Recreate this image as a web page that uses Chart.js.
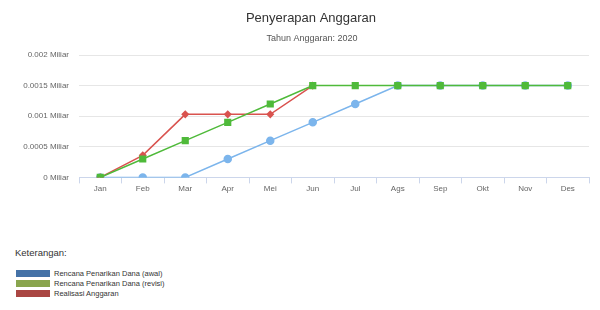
<!DOCTYPE html>
<html>
<head>
<meta charset="utf-8">
<script src="https://cdn.jsdelivr.net/npm/chart.js@4"></script>
<style>
  body { margin: 0; background: #fff; font-family: "Liberation Sans", Arial, sans-serif; }
  #wrap { position: relative; width: 600px; height: 205px; }
  #legend { position: absolute; left: 15px; top: 247px; color: #333; }
  #legend .head { font-size: 9.5px; line-height: 12px; margin-bottom: 9px; }
  #legend .row { display: flex; align-items: center; height: 10px; font-size: 7.5px; }
  #legend .box { width: 34px; height: 7px; margin-left: 1px; margin-right: 4px; }
</style>
</head>
<body>
<div id="wrap"><canvas id="myChart"></canvas></div>
<div id="legend">
  <div class="head">Keterangan:</div>
  <div class="row"><span class="box" style="background:#4572a7"></span>Rencana Penarikan Dana (awal)</div>
  <div class="row"><span class="box" style="background:#89a54e"></span>Rencana Penarikan Dana (revisi)</div>
  <div class="row"><span class="box" style="background:#aa4643"></span>Realisasi Anggaran</div>
</div>
<script>
const months = ['Jan','Feb','Mar','Apr','Mei','Jun','Jul','Ags','Sep','Okt','Nov','Des'];
const rencanaAwal = [0, 0, 0, 0.0003, 0.0006, 0.0009, 0.0012, 0.0015, 0.0015, 0.0015, 0.0015, 0.0015];
const rencanaRevisi = [0, 0.0003, 0.0006, 0.0009, 0.0012, 0.0015, 0.0015, 0.0015, 0.0015, 0.0015, 0.0015, 0.0015];
const realisasi = [0, 0.00036, 0.00103, 0.00103, 0.00103, 0.0015, null, null, null, null, null, null];
const chartTitle = 'Penyerapan Anggaran';
const chartSubtitle = 'Tahun Anggaran: 2020';

const ctx = document.getElementById('myChart');
const fontFam = '"Liberation Sans", Arial, sans-serif';

// title + subtitle sit a bit right of canvas centre in the original
const headerText = {
  id: 'headerText',
  afterDraw(chart) {
    const c = chart.ctx;
    c.save();
    c.textAlign = 'center';
    c.textBaseline = 'middle';
    c.fillStyle = '#333';
    c.font = '13px ' + fontFam;
    c.fillText(chartTitle, 311, 18);
    c.fillStyle = '#555';
    c.font = '9px ' + fontFam;
    c.fillText(chartSubtitle, 312, 38.5);
    c.restore();
  }
};

new Chart(ctx, {
  type: 'line',
  data: {
    labels: months,
    datasets: [{
      label: 'Rencana Penarikan Dana (awal)',
      data: rencanaAwal,
      borderColor: '#7cb5ec',
      backgroundColor: '#7cb5ec',
      borderWidth: 1.5,
      pointStyle: 'circle',
      pointRadius: 3.5,
      order: 3
    }, {
      label: 'Realisasi Anggaran',
      data: realisasi,
      borderColor: '#d9534f',
      backgroundColor: '#d9534f',
      borderWidth: 1.5,
      pointStyle: 'rectRot',
      pointRadius: 3,
      order: 2
    }, {
      label: 'Rencana Penarikan Dana (revisi)',
      data: rencanaRevisi,
      borderColor: '#4fba3a',
      backgroundColor: '#4fba3a',
      borderWidth: 1.5,
      pointStyle: 'rect',
      pointRadius: 4,
      order: 1
    }]
  },
  options: {
    responsive: true,
    maintainAspectRatio: false,
    animation: false,
    layout: { padding: { left: 0, right: 11, top: 55, bottom: 10 } },
    plugins: {
      legend: { display: false },
      tooltip: { enabled: false },
      title: { display: false },
      subtitle: { display: false }
    },
    scales: {
      x: {
        offset: true,
        grid: { drawOnChartArea: false, drawTicks: true, tickLength: 6, color: '#ccd6eb', offset: true },
        border: { color: '#ccd6eb' },
        ticks: { color: '#666', font: { family: fontFam, size: 8 }, padding: 1 }
      },
      y: {
        min: 0,
        max: 0.002,
        afterFit: function(scale) { scale.width = 79; },
        grid: { color: '#e6e6e6', drawTicks: false },
        border: { display: false },
        ticks: {
          stepSize: 0.0005,
          color: '#666',
          padding: 10,
          font: { family: fontFam, size: 8 },
          callback: function(v) { return (Math.round(v * 10000) / 10000) + ' Miliar'; }
        }
      }
    }
  },
  plugins: [headerText]
});
</script>
</body>
</html>
